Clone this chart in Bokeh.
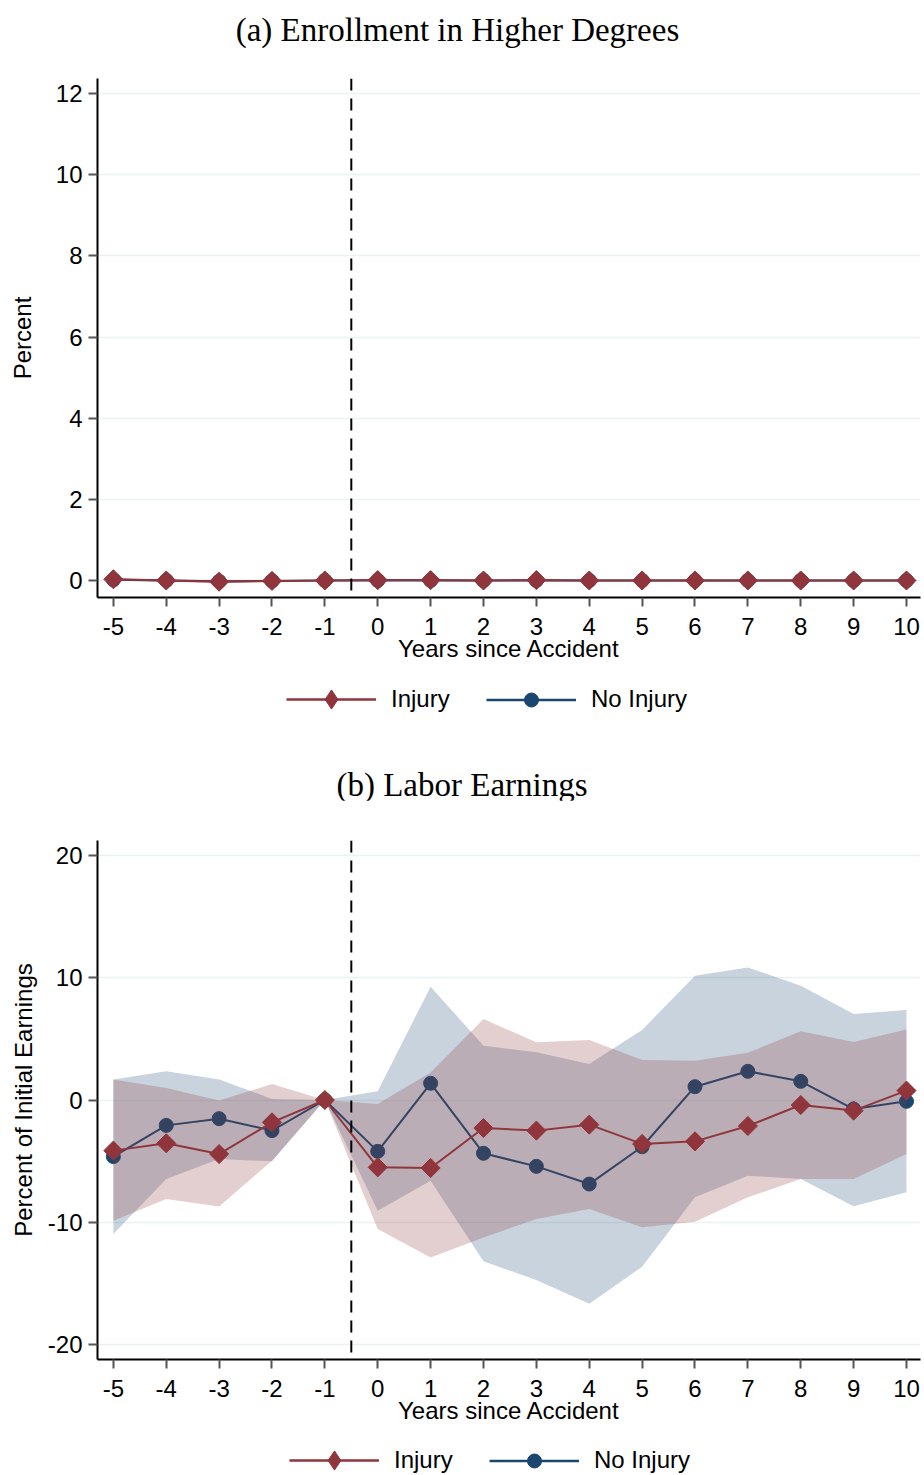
from bokeh.plotting import figure
from bokeh.layouts import column
from bokeh.models import Span, Legend, LegendItem, FixedTicker, Div
from bokeh.embed import file_html
from bokeh.resources import INLINE

years = list(range(-5, 11))

# (a) enrollment in higher degrees, percent
enr_inj = [0.03, 0.0, -0.03, -0.01, 0.0, 0.01, 0.01, 0.0, 0.01, 0.0, 0.0, 0.0, 0.0, 0.0, 0.0, 0.0]
enr_inj_hi = [0.06, 0.03, 0.01, 0.02, 0.0, 0.03, 0.03, 0.02, 0.03, 0.02, 0.02, 0.02, 0.02, 0.02, 0.02, 0.02]
enr_inj_lo = [0.0, -0.03, -0.07, -0.04, 0.0, -0.01, -0.01, -0.02, -0.01, -0.02, -0.02, -0.02, -0.02, -0.02, -0.02, -0.02]
enr_no = [0.02, 0.0, -0.02, -0.01, 0.0, 0.0, 0.0, 0.0, 0.0, 0.0, 0.0, 0.0, 0.0, 0.0, 0.0, 0.0]
enr_no_hi = [0.05, 0.02, 0.01, 0.01, 0.0, 0.02, 0.02, 0.02, 0.02, 0.02, 0.02, 0.02, 0.02, 0.02, 0.02, 0.02]
enr_no_lo = [-0.01, -0.02, -0.05, -0.03, 0.0, -0.02, -0.02, -0.02, -0.02, -0.02, -0.02, -0.02, -0.02, -0.02, -0.02, -0.02]

# (b) labor earnings, percent of initial earnings
earn_inj = [-4.15, -3.55, -4.43, -1.83, 0.0, -5.52, -5.57, -2.30, -2.51, -2.02, -3.60, -3.39, -2.13, -0.41, -0.87, 0.77]
earn_inj_hi = [1.69, 0.98, -0.05, 1.31, 0.0, -0.33, 2.26, 6.64, 4.73, 4.92, 3.28, 3.22, 3.88, 5.63, 4.75, 5.77]
earn_inj_lo = [-9.89, -8.11, -8.72, -4.97, 0.0, -10.57, -12.90, -11.26, -9.75, -8.93, -10.44, -9.97, -7.98, -6.48, -6.48, -4.43]
earn_no = [-4.64, -2.08, -1.53, -2.51, 0.0, -4.21, 1.37, -4.37, -5.44, -6.89, -3.83, 1.09, 2.35, 1.53, -0.74, -0.11]
earn_no_hi = [1.69, 2.35, 1.69, 0.08, 0.0, 0.71, 9.29, 4.45, 3.91, 2.95, 5.74, 10.19, 10.87, 9.37, 7.05, 7.38]
earn_no_lo = [-10.98, -6.48, -4.84, -5.03, 0.0, -9.07, -6.61, -13.22, -14.75, -16.70, -13.66, -7.98, -6.20, -6.48, -8.70, -7.57]

RED = "#90353B"
NAVY = "#1A476F"
SANS = "Liberation Sans"
SERIF = "Liberation Serif"


def heading(text, height, pad_top, pad_right):
    return Div(text=text, width=924, height=height, margin=0,
               styles={"font-family": SERIF, "font-size": "33px", "line-height": "1",
                       "color": "black", "text-align": "center",
                       "padding-top": f"{pad_top}px", "padding-right": f"{pad_right}px",
                       "box-sizing": "border-box"})


def panel(ylabel, yticks, yrange, top, left, ylab_standoff,
          inj, inj_hi, inj_lo, no, no_hi, no_lo):
    bottom = 72
    p = figure(width=924, height=top + 519 + bottom, x_range=(-5.3, 10.265), y_range=yrange,
               output_backend="svg", toolbar_location=None,
               min_border_top=top, min_border_left=left, min_border_right=4,
               min_border_bottom=bottom)
    p.outline_line_color = None

    # bands drawn over the earlier series, as in the original
    p.varea(x=years, y1=no_lo, y2=no_hi, fill_color=NAVY, fill_alpha=0.24)
    p.line(years, no, line_color=NAVY, line_width=2)
    p.scatter(years, no, marker="circle", size=14, fill_color=NAVY, line_color=NAVY)
    p.varea(x=years, y1=inj_lo, y2=inj_hi, fill_color=RED, fill_alpha=0.24)
    p.line(years, inj, line_color=RED, line_width=2)
    p.scatter(years, inj, marker="square", angle=0.785398, size=13.5,
              fill_color=RED, line_color=RED)

    p.add_layout(Span(location=-0.5, dimension="height", line_color="black",
                      line_width=2, line_dash="12 8"))

    p.xgrid.visible = False
    p.ygrid.grid_line_color = "#EAF2F3"
    p.ygrid.grid_line_width = 1.5
    p.xaxis.ticker = FixedTicker(ticks=years)
    p.yaxis.ticker = FixedTicker(ticks=yticks)
    p.xaxis.major_label_overrides = {v: str(v) for v in years}
    p.yaxis.major_label_overrides = {v: str(v) for v in yticks}

    for ax in (p.xaxis[0], p.yaxis[0]):
        ax.axis_line_color = "black"
        ax.axis_line_width = 2
        ax.major_tick_line_color = "#555555"
        ax.major_tick_line_width = 2
        ax.major_tick_in = 0
        ax.major_tick_out = 9
        ax.minor_tick_line_color = None
        ax.major_label_text_font = SANS
        ax.major_label_text_font_size = "24px"
        ax.major_label_text_color = "black"
        ax.axis_label_text_font = SANS
        ax.axis_label_text_font_size = "24px"
        ax.axis_label_text_font_style = "normal"
        ax.axis_label_text_color = "black"
    p.xaxis.axis_label = "Years since Accident"
    p.xaxis.major_label_standoff = 11
    p.xaxis.axis_label_standoff = -3
    p.yaxis.axis_label = ylabel
    p.yaxis.major_label_standoff = 6
    p.yaxis.axis_label_standoff = ylab_standoff
    return p


def key(label, renderers, glyph_h, x, y):
    return Legend(items=[LegendItem(label=label, renderers=renderers)],
                  orientation="horizontal", location=(x, y), margin=0, padding=0,
                  glyph_width=90, glyph_height=glyph_h, label_standoff=15,
                  label_text_font=SANS, label_text_font_size="24px",
                  label_text_color="black",
                  border_line_color=None, background_fill_alpha=0)


def legend_strip(height, x, mid, inj, no):
    # key in its own strip; the series sit outside this strip's ranges
    p = figure(width=924, height=height, x_axis_type=None, y_axis_type=None,
               output_backend="svg", toolbar_location=None,
               min_border=0, x_range=(20, 21), y_range=(20, 21))
    p.outline_line_color = None
    l_inj = p.line(years, inj, line_color=RED, line_width=2.5)
    s_inj = p.scatter(years, inj, marker="diamond", fill_color=RED, line_color=RED)
    l_no = p.line(years, no, line_color=NAVY, line_width=2.5)
    s_no = p.scatter(years, no, marker="circle", fill_color=NAVY, line_color=NAVY)
    p.add_layout(key("Injury", [l_inj, s_inj], 48, x, mid - 24))
    p.add_layout(key("No Injury", [l_no, s_no], 35, x + 200, mid - 17.5))
    return p


ta = heading("(a) Enrollment in Higher Degrees", 50, 14, 9)
pa = panel("Percent", [0, 2, 4, 6, 8, 10, 12], (-0.419, 12.37), 28, 89, 17,
           enr_inj, enr_inj_hi, enr_inj_lo, enr_no, enr_no_hi, enr_no_lo)
la = legend_strip(60, 189, 30, enr_inj, enr_no)
tb = heading("(b) Labor Earnings", 71, 40, 0)
pb = panel("Percent of Initial Earnings", [-20, -10, 0, 10, 20], (-21.27, 21.27), 40, 97, 8,
           earn_inj, earn_inj_hi, earn_inj_lo, earn_no, earn_no_hi, earn_no_lo)
lb = legend_strip(44, 192, 15, earn_inj, earn_no)

layout = column(ta, pa, la, tb, pb, lb, spacing=0)
open("out.html", "w").write(file_html(layout, INLINE))
